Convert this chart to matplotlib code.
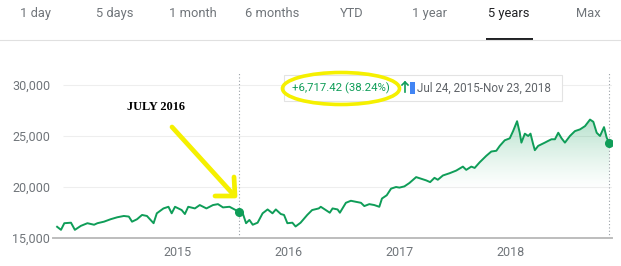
import numpy as np
import matplotlib.pyplot as plt
from matplotlib.patches import Ellipse, FancyBboxPatch, Rectangle
from matplotlib.lines import Line2D

W, H = 621, 266

tabs = ["1 day", "5 days", "1 month", "6 months", "YTD", "1 year", "5 years", "Max"]
tab_x = [36, 115, 193, 272, 352, 430, 509, 588]
active_tab = "5 years"

# index level (decimal years)
years = [
    2013.917, 2013.952, 2013.982, 2014.042, 2014.077, 2014.131, 2014.190, 2014.250,
    2014.280, 2014.339, 2014.399, 2014.458, 2014.518, 2014.563, 2014.592, 2014.637,
    2014.682, 2014.726, 2014.786, 2014.815, 2014.875, 2014.920, 2014.949, 2014.979,
    2015.039, 2015.068, 2015.098, 2015.158, 2015.202, 2015.262, 2015.321, 2015.366,
    2015.411, 2015.470, 2015.515, 2015.554, 2015.589, 2015.619, 2015.649, 2015.679,
    2015.723, 2015.768, 2015.813, 2015.857, 2015.887, 2015.932, 2015.961, 2015.991,
    2016.036, 2016.065, 2016.110, 2016.170, 2016.214, 2016.274, 2016.292, 2016.337,
    2016.373, 2016.398, 2016.443, 2016.464, 2016.518, 2016.563, 2016.608, 2016.654,
    2016.684, 2016.729, 2016.774, 2016.819, 2016.843, 2016.886, 2016.925, 2016.970,
    2017.000, 2017.045, 2017.090, 2017.151, 2017.196, 2017.241, 2017.277, 2017.316,
    2017.346, 2017.392, 2017.452, 2017.512, 2017.572, 2017.602, 2017.648, 2017.678,
    2017.723, 2017.783, 2017.828, 2017.873, 2017.904, 2017.949, 2017.994, 2018.024,
    2018.060, 2018.084, 2018.099, 2018.130, 2018.160, 2018.181, 2018.205, 2018.220,
    2018.250, 2018.280, 2018.310, 2018.340, 2018.370, 2018.401, 2018.431, 2018.461,
    2018.491, 2018.536, 2018.581, 2018.627, 2018.672, 2018.717, 2018.747, 2018.777,
    2018.807, 2018.843, 2018.867, 2018.892,
]
values = [
    16100, 15800, 16450, 16500, 15800, 16190, 16450, 16300,
    16450, 16600, 16840, 17030, 17160, 17100, 16600, 16840,
    17260, 17160, 16450, 17420, 17900, 18060, 17420, 18060,
    17740, 17350, 18060, 17900, 18230, 17900, 18230, 18320,
    18000, 18060, 17800, 17570, 17420, 16450, 16770, 16300,
    16500, 17420, 17800, 17420, 17800, 17350, 17260, 16450,
    16500, 16130, 16500, 17260, 17740, 17900, 18060, 17740,
    17480, 17900, 17800, 17480, 18450, 18650, 18550, 18450,
    18130, 18320, 18230, 18060, 18870, 19190, 19840, 20000,
    19940, 20060, 20390, 20970, 20810, 20650, 20480, 20900,
    20710, 21130, 21350, 21610, 22000, 21680, 22000, 21870,
    22420, 23060, 23480, 23550, 24030, 24580, 24770, 25480,
    26450, 25320, 24350, 25230, 25000, 25230, 24190, 23610,
    24030, 24190, 24350, 24520, 24680, 24680, 25320, 24770,
    24350, 25000, 25480, 25650, 25970, 26610, 26390, 25320,
    25000, 25870, 24840, 24290,
]

sel_start = 2015.554
change_text = "+6,717.42 (38.24%)"
range_text = "Jul 24, 2015-Nov 23, 2018"
note_text = "JULY 2016"

y_ticks = [15000, 20000, 25000, 30000]
y_labels = ["15,000", "20,000", "25,000", "30,000"]
x_ticks = [2015, 2016, 2017, 2018]
x_labels = ["2015", "2016", "2017", "2018"]

GREEN = "#0f9d58"
GRAY_TXT = "#70757a"
YELLOW = "#f5f000"

plt.rcParams["font.family"] = ["Roboto", "DejaVu Sans"]


def fx(x):
    return x / W


def fy(y):
    return 1 - y / H


fig = plt.figure(figsize=(W / 100, H / 100), dpi=100)

# tab bar
for name, x in zip(tabs, tab_x):
    active = name == active_tab
    fig.text(fx(x), fy(14), name, ha="center", va="center", fontsize=9.3,
             color="#202124" if active else GRAY_TXT)
fig.add_artist(Line2D([0, 1], [fy(39.5), fy(39.5)], color="#e0e0e0", lw=0.8))
fig.add_artist(Rectangle((fx(486), fy(41)), fx(533) - fx(486), 3 / H,
                         color="#202124", lw=0))

# chart
ymax = 15000 + (238 - 66) / 51 * 5000
ax = fig.add_axes([fx(53), fy(238), fx(612) - fx(53), (238 - 66) / H])
x0, x1 = 2013.88, 2018.915

ax.hlines(y_ticks[1:], 2013.97, x1, color="#eeeeee", lw=0.8, zorder=0)

yr = np.array(years)
vals = np.array(values)
mask = yr >= sel_start
fill = ax.fill_between(yr[mask], vals[mask], 15000, color="none", lw=0)
grad = np.zeros((100, 2, 4))
grad[..., :3] = np.array([15, 157, 88]) / 255
ramp = np.clip(np.linspace(1, -0.6, 100), 0, 1) ** 1.3 * 0.32
grad[..., 3] = ramp[:, None]
img = ax.imshow(grad, extent=[sel_start, years[-1], 15000, 27000],
                aspect="auto", origin="upper", zorder=1)
img.set_clip_path(fill.get_paths()[0], transform=ax.transData)
ax.set_xlim(x0, x1)
ax.set_ylim(15000, ymax)

ax.plot(years, values, color=GREEN, lw=1.4, zorder=3, solid_joinstyle="round")
ax.vlines([sel_start, years[-1]], 15000, 31200, color="#9aa0a6", lw=0.8,
          linestyles=(0, (1, 2)), zorder=2)
ax.plot([sel_start, years[-1]], [values[years.index(sel_start)], values[-1]],
        "o", color=GREEN, ms=5.5, zorder=4)

for s in ["top", "right", "left"]:
    ax.spines[s].set_visible(False)
ax.spines["bottom"].set_color("#bdbdbd")
ax.spines["bottom"].set_linewidth(1.4)
ax.set_yticks(y_ticks, y_labels)
ax.set_xticks(x_ticks, x_labels)
ax.tick_params(length=0, labelsize=9, labelcolor=GRAY_TXT)
ax.tick_params(axis="y", pad=2)
ax.tick_params(axis="x", pad=5.5)
ax.patch.set_alpha(0)

# tooltip
fig.add_artist(FancyBboxPatch((fx(284), fy(101)), fx(562) - fx(284), (101 - 75) / H,
                              boxstyle="square,pad=0", fc="white", ec="#e3e3e3",
                              lw=0.8, zorder=5))
fig.text(fx(292), fy(88), change_text, ha="left", va="center", fontsize=8.2,
         color=GREEN, zorder=6)
fig.add_artist(Line2D([fx(405), fx(405)], [fy(92), fy(82)], color=GREEN, lw=1.2, zorder=6))
fig.add_artist(Line2D([fx(402), fx(405), fx(408)], [fy(85), fy(82), fy(85)],
                      color=GREEN, lw=1.2, zorder=6))
fig.add_artist(Rectangle((fx(410), fy(94)), 5 / W, 12 / H, color="#4285f4", lw=0, zorder=6))
fig.text(fx(417), fy(88), range_text, ha="left", va="center", fontsize=8.4,
         color="#5f6368", zorder=6)

# hand-drawn highlights
fig.add_artist(Ellipse((fx(341), fy(88.5)), 117 / W, 32 / H, fill=False,
                       ec=YELLOW, lw=2.6, zorder=7))
fig.text(fx(156), fy(107), note_text, ha="center", va="center", fontsize=8.8,
         fontweight="bold", family=["Liberation Serif", "DejaVu Serif"], color="black")
fig.add_artist(Line2D([fx(172), fx(232)], [fy(127), fy(193)], color=YELLOW, lw=3.4,
                      solid_capstyle="round", zorder=7))
fig.add_artist(Line2D([fx(215), fx(235), fx(234)], [fy(196), fy(196), fy(177)],
                      color=YELLOW, lw=3.4, solid_capstyle="round",
                      solid_joinstyle="round", zorder=7))

fig.savefig("out.png", dpi=100)
